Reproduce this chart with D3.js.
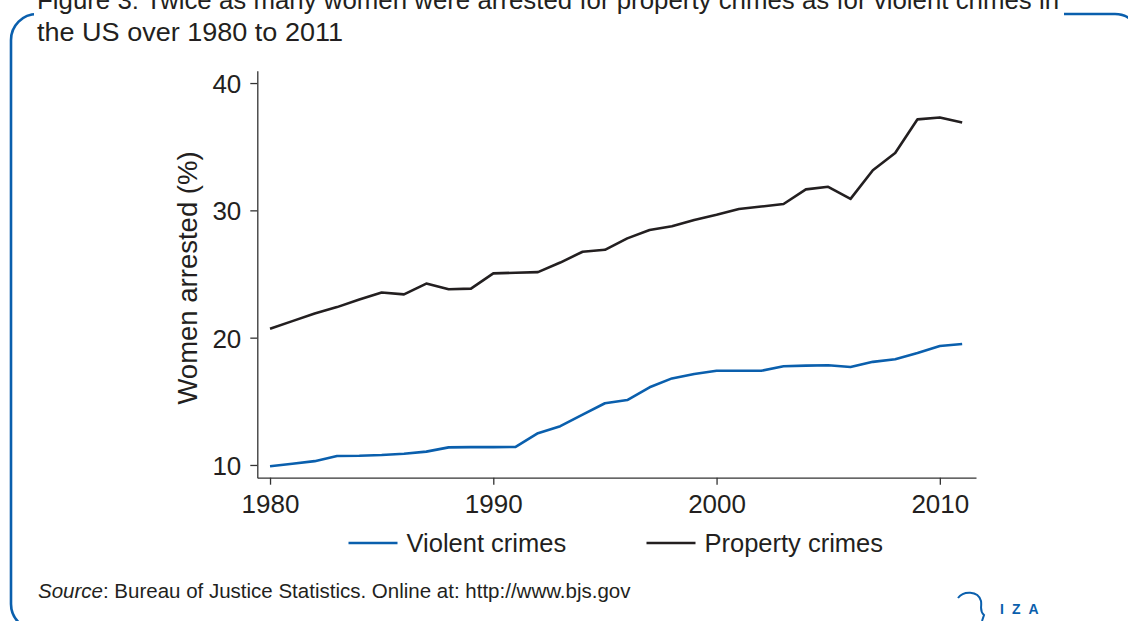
<!DOCTYPE html>
<html>
<head>
<meta charset="utf-8">
<script src="https://cdn.jsdelivr.net/npm/d3@7"></script>
<style>
  body { margin: 0; background: #fff; }
  svg { display: block; font-family: "Liberation Sans", Arial, sans-serif; }
</style>
</head>
<body>
<div id="chart"></div>
<script>
// data
const years = d3.range(1980, 2012);
const violent = [9.9, 10.1, 10.3, 10.7, 10.72, 10.78, 10.88, 11.05, 11.38, 11.4,
  11.4, 11.42, 12.5, 13.05, 13.95, 14.85, 15.1, 16.1, 16.8, 17.15,
  17.4, 17.4, 17.4, 17.75, 17.8, 17.83, 17.7, 18.1, 18.3, 18.8, 19.35, 19.5];
const property = [20.7, 21.3, 21.9, 22.4, 23.0, 23.55, 23.4, 24.25, 23.8, 23.85,
  25.05, 25.1, 25.15, 25.9, 26.75, 26.9, 27.8, 28.45, 28.75, 29.25,
  29.65, 30.1, 30.3, 30.5, 31.65, 31.85, 30.9, 33.15, 34.5, 37.15, 37.3, 36.9];
const yTicks = [10, 20, 30, 40];
const xTicks = [1980, 1990, 2000, 2010];
const seriesNames = ["Violent crimes", "Property crimes"];
const seriesColors = ["#0a5fad", "#231f20"];

const width = 1128, height = 621;
const blue = "#0a5fad", ink = "#231f20";

const svg = d3.select("#chart").append("svg")
  .attr("width", width).attr("height", height);

// frame
const fx0 = 11, fy0 = 14, fx1 = 1141, fy1 = 630, r = 26;
svg.append("rect")
  .attr("x", fx0).attr("y", fy0)
  .attr("width", fx1 - fx0).attr("height", fy1 - fy0)
  .attr("rx", r).attr("ry", r)
  .attr("fill", "none").attr("stroke", blue).attr("stroke-width", 2.6);
svg.append("rect")
  .attr("x", 34).attr("y", 0).attr("width", 1030).attr("height", 24)
  .attr("fill", "#fff");

// title
const title = svg.append("text").attr("fill", ink).attr("font-size", 26.5);
title.append("tspan").attr("x", 37).attr("y", 9)
  .attr("textLength", 1022).attr("lengthAdjust", "spacingAndGlyphs")
  .text("Figure 3: Twice as many women were arrested for property crimes as for violent crimes in");
title.append("tspan").attr("x", 37).attr("y", 41)
  .attr("textLength", 306).attr("lengthAdjust", "spacingAndGlyphs")
  .text("the US over 1980 to 2011");

// scales
const x = d3.scaleLinear().domain([1979.43, 2011.62]).range([257.3, 976]);
const y = d3.scaleLinear().domain([9, 40.97]).range([477.7, 70.7]);

const yAxis = svg.append("g")
  .attr("transform", `translate(${x.range()[0]},0)`)
  .call(d3.axisLeft(y).tickValues(yTicks).tickSize(7).tickSizeOuter(0).tickPadding(9));
const xAxis = svg.append("g")
  .attr("transform", `translate(0,${y.range()[0]})`)
  .call(d3.axisBottom(x).tickValues(xTicks).tickFormat(d3.format("d"))
    .tickSize(7).tickSizeOuter(0).tickPadding(10));

[yAxis, xAxis].forEach(g => {
  g.select(".domain").attr("stroke", "#333").attr("stroke-width", 1.3);
  g.selectAll(".tick line").attr("stroke", "#333").attr("stroke-width", 1.3);
  g.selectAll(".tick text")
    .attr("fill", ink)
    .attr("font-family", "Liberation Sans, Arial, sans-serif")
    .attr("font-size", 26);
});
yAxis.selectAll(".tick text").attr("dy", "0.36em");

svg.append("text")
  .attr("transform", "translate(187,278) rotate(-90)")
  .attr("text-anchor", "middle")
  .attr("dominant-baseline", "central")
  .attr("fill", ink).attr("font-size", 27.5)
  .text("Women arrested (%)");

// lines
const line = d3.line().x((d, i) => x(years[i])).y(d => y(d));
[violent, property].forEach((s, i) => {
  svg.append("path")
    .datum(s)
    .attr("fill", "none")
    .attr("stroke", seriesColors[i])
    .attr("stroke-width", 2.6)
    .attr("stroke-linejoin", "round")
    .attr("d", line);
});

// legend
const legendX = [348.5, 646.5];
const legend = svg.append("g").selectAll("g")
  .data(seriesNames).join("g")
  .attr("transform", (d, i) => `translate(${legendX[i]},543)`);
legend.append("line")
  .attr("x1", 0).attr("x2", 49)
  .attr("stroke", (d, i) => seriesColors[i]).attr("stroke-width", 2.6);
legend.append("text")
  .attr("x", 58).attr("dy", "0.35em")
  .attr("fill", ink).attr("font-size", 25.5)
  .text(d => d);

// source
const src = svg.append("text").attr("x", 38).attr("y", 598)
  .attr("fill", ink).attr("font-size", 20.5);
src.append("tspan").attr("font-style", "italic").text("Source");
src.append("tspan").text(": Bureau of Justice Statistics. Online at: http://www.bjs.gov");

// IZA mark
svg.append("path")
  .attr("d", "M958,598 C963,591 978,590 981,601 C982,607 979,611 984,615 L982,621")
  .attr("fill", "none").attr("stroke", blue).attr("stroke-width", 2);
svg.append("text")
  .attr("x", 1000).attr("y", 614)
  .attr("fill", blue).attr("font-size", 14).attr("font-weight", "bold")
  .attr("letter-spacing", 8)
  .text("IZA");
</script>
</body>
</html>
